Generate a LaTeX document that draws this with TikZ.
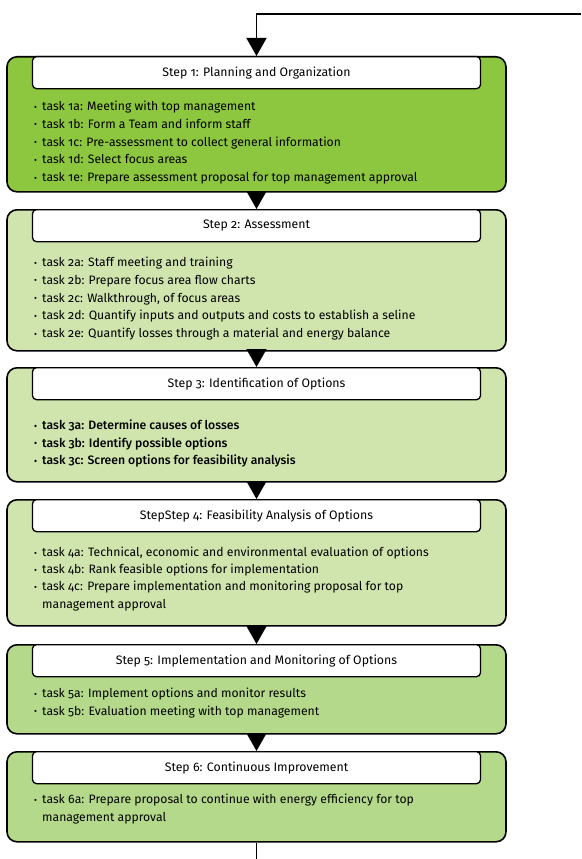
\documentclass[tikz,border=0pt]{standalone}
\usepackage{fontspec}
\setmainfont{Fira Sans}[BoldFont=Fira Sans Medium, Numbers=OldStyle]
\usetikzlibrary{arrows.meta}
\definecolor{gA}{HTML}{8DC63F}
\definecolor{gB}{HTML}{D0E4AE}
\definecolor{gC}{HTML}{B5D98A}
\tikzset{
  outer/.style={draw=black, line width=1.6pt, rounded corners=10pt, minimum width=499pt, anchor=north, inner sep=0pt},
  titlebox/.style={draw=black, fill=white, line width=1.3pt, rounded corners=4pt, minimum width=448pt, minimum height=32pt, anchor=north, inner sep=0pt, font=\fontsize{12.3}{14}\selectfont},
  task/.style={anchor=base west, inner sep=0pt, font=\fontsize{12.2}{14}\selectfont},
  flow/.style={line width=1.5pt, -{Triangle[width=20pt,length=18pt]}},
}
\newcommand{\bul}{\makebox[8pt][l]{\raisebox{0.05ex}{\fontsize{9}{10}\selectfont\textbullet}}}
\begin{document}
\begin{tikzpicture}[x=1pt,y=-1pt]
\useasboundingbox (0,0) rectangle (581,859);
% outer boxes
\node[outer, fill=gA, minimum height=135pt] (s1) at (256.5,56) {};
\node[outer, fill=gB, minimum height=141pt] (s2) at (256.5,209) {};
\node[outer, fill=gB, minimum height=114pt] (s3) at (256.5,367) {};
\node[outer, fill=gB, minimum height=126pt] (s4) at (256.5,499) {};
\node[outer, fill=gC, minimum height=89pt] (s5) at (256.5,644) {};
\node[outer, fill=gC, minimum height=90pt] (s6) at (256.5,751) {};
% title boxes
\node[titlebox] (h1) at (s1.north) {Step 1: Planning and Organization};
\node[titlebox] (h2) at (s2.north) {Step 2: Assessment};
\node[titlebox] (h3) at (s3.north) {Step 3: Identification of Options};
\node[titlebox] (h4) at (s4.north) {StepStep 4: Feasibility Analysis of Options};
\node[titlebox] (h5) at (s5.north) {Step 5: Implementation and Monitoring of Options};
\node[titlebox] (h6) at (s6.north) {Step 6: Continuous Improvement};
% tasks
\foreach \t [count=\i] in {{task 1a: Meeting with top management},{task 1b: Form a Team and inform staff},{task 1c: Pre-assessment to collect general information},{task 1d: Select focus areas},{task 1e: Prepare assessment proposal for top management approval}}
  \node[task] (t1\i) at (34,{110.5+(\i-1)*17.8}) {\bul\t};
\foreach \t [count=\i] in {{task 2a: Staff meeting and training},{task 2b: Prepare focus area flow charts},{task 2c: Walkthrough, of focus areas},{task 2d: Quantify inputs and outputs and costs to establish a seline},{task 2e: Quantify losses through a material and energy balance}}
  \node[task] (t2\i) at (34,{266.5+(\i-1)*17.8}) {\bul\t};
\foreach \t [count=\i] in {{task 3a: Determine causes of losses},{task 3b: Identify possible options},{task 3c: Screen options for feasibility analysis}}
  \node[task, font=\fontsize{12.2}{14}\selectfont\bfseries] (t3\i) at (34,{429.5+(\i-1)*17.6}) {\bul\t};
\foreach \t [count=\i] in {{\bul task 4a: Technical, economic and environmental evaluation of options},{\bul task 4b: Rank feasible options for implementation},{\bul task 4c: Prepare implementation and monitoring proposal for top},{\hspace*{8pt}management approval}}
  \node[task] (t4\i) at (34,{556.5+(\i-1)*17.2}) {\t};
\foreach \t [count=\i] in {{task 5a: Implement options and monitor results},{task 5b: Evaluation meeting with top management}}
  \node[task] (t5\i) at (34,{697.5+(\i-1)*17.8}) {\bul\t};
\foreach \t [count=\i] in {{\bul task 6a: Prepare proposal to continue with energy efficiency for top},{\hspace*{8pt}management approval}}
  \node[task] (t6\i) at (34,{803.5+(\i-1)*17.8}) {\t};
% connectors
\coordinate (in) at (581,14);
\coordinate (out) at (256.5,859);
\draw[flow] (in) -| (s1.north);
\draw[flow] (s1.south) -- (s2.north);
\draw[flow] (s2.south) -- (s3.north);
\draw[flow] (s3.south) -- (s4.north);
\draw[flow] (s4.south) -- (s5.north);
\draw[flow] (s5.south) -- (s6.north);
\draw[line width=1.5pt] (s6.south) -- (out);
\end{tikzpicture}
\end{document}
